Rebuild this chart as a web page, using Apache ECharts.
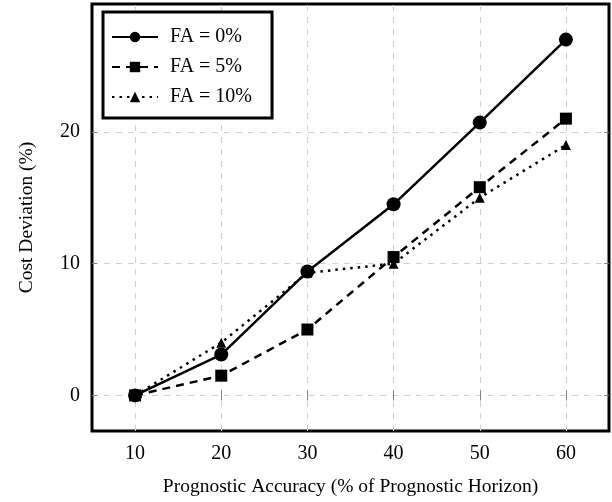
<!DOCTYPE html>
<html>
<head>
<meta charset="utf-8">
<script src="https://cdn.jsdelivr.net/npm/echarts@6/dist/echarts.min.js"></script>
<style>
  html, body { margin: 0; padding: 0; background: #fff; }
  #chart { width: 612px; height: 502px; }
</style>
</head>
<body>
<div id="chart"></div>
<script>
// prognostic accuracy (x) and cost deviation (y) per false-alarm rate
const accuracy = [10, 20, 30, 40, 50, 60];
const yTicks = [0, 10, 20];
const fa0 = [0, 3.1, 9.4, 14.5, 20.7, 27.0];
const fa5 = [0, 1.5, 5.0, 10.5, 15.8, 21.0];
const fa10 = [0, 4.0, 9.3, 10.0, 15.0, 19.0];

const pairs = (ys) => accuracy.map((x, i) => [x, ys[i]]);

const font = '"Liberation Serif", "DejaVu Serif", serif';
const tickStyle = { color: '#808080', width: 1 };
const gridLine = { color: '#d0d0d0', type: [6, 6], width: 1 };

const chart = echarts.init(document.getElementById('chart'));

const baseX = {
  type: 'value',
  min: 5,
  max: 65,
  axisLine: { show: false },
  axisTick: { show: true, inside: true, length: 5, customValues: accuracy, lineStyle: tickStyle },
  axisLabel: { show: false },
  splitLine: { show: false }
};
const baseY = {
  type: 'value',
  min: -2.7,
  max: 29.7,
  axisLine: { show: false },
  axisTick: { show: true, inside: true, length: 5, customValues: yTicks, lineStyle: tickStyle },
  axisLabel: { show: false },
  splitLine: { show: false }
};

chart.setOption({
  animation: false,
  backgroundColor: '#fff',
  textStyle: { fontFamily: font },
  grid: {
    left: 92, right: 3, top: 4, bottom: 68,
    show: true,
    borderColor: '#000',
    borderWidth: 3,
    backgroundColor: 'transparent'
  },
  legend: {
    left: 103,
    top: 12,
    z: 10,
    orient: 'vertical',
    itemWidth: 46,
    itemHeight: 13,
    itemGap: 10,
    padding: [15, 20, 11, 8],
    borderColor: '#000',
    borderWidth: 3,
    backgroundColor: '#fff',
    textStyle: { fontFamily: font, fontSize: 20, color: '#000', padding: [0, 0, 0, 7] },
    data: ['FA = 0%', 'FA = 5%', 'FA = 10%']
  },
  xAxis: [
    Object.assign({}, baseX, {
      position: 'bottom',
      name: 'Prognostic Accuracy (% of Prognostic Horizon)',
      nameLocation: 'middle',
      nameGap: 46,
      nameTextStyle: { fontFamily: font, fontSize: 19.5, color: '#000' },
      axisLabel: {
        show: true, margin: 13, fontFamily: font, fontSize: 20, color: '#000',
        customValues: accuracy
      }
    }),
    Object.assign({}, baseX, { position: 'top' })
  ],
  yAxis: [
    Object.assign({}, baseY, {
      position: 'left',
      name: 'Cost Deviation (%)',
      nameLocation: 'middle',
      nameGap: 55,
      nameRotate: 90,
      nameTextStyle: { fontFamily: font, fontSize: 19.5, color: '#000' },
      axisLabel: {
        show: true, margin: 12, fontFamily: font, fontSize: 20, color: '#000',
        customValues: yTicks
      }
    }),
    Object.assign({}, baseY, { position: 'right' })
  ],
  series: [
    // dashed grid lines at the labelled ticks
    {
      type: 'line',
      data: [],
      silent: true,
      z: 0,
      markLine: {
        silent: true,
        z: 0,
        symbol: 'none',
        label: { show: false },
        lineStyle: gridLine,
        data: yTicks.map((v) => ({ yAxis: v })).concat(accuracy.map((v) => ({ xAxis: v })))
      }
    },
    {
      name: 'FA = 0%',
      type: 'line',
      data: pairs(fa0),
      symbol: 'circle',
      symbolSize: 14,
      itemStyle: { color: '#000' },
      lineStyle: { color: '#000', width: 2.5, type: 'solid' },
      z: 4
    },
    {
      name: 'FA = 5%',
      type: 'line',
      data: pairs(fa5),
      symbol: 'rect',
      symbolSize: 12,
      itemStyle: { color: '#000' },
      lineStyle: { color: '#000', width: 2.5, type: [8, 6] },
      z: 3
    },
    {
      name: 'FA = 10%',
      type: 'line',
      data: pairs(fa10),
      symbol: 'triangle',
      symbolSize: 10,
      itemStyle: { color: '#000' },
      lineStyle: { color: '#000', width: 2.5, type: [2.5, 5] },
      z: 2
    }
  ]
});
</script>
</body>
</html>
